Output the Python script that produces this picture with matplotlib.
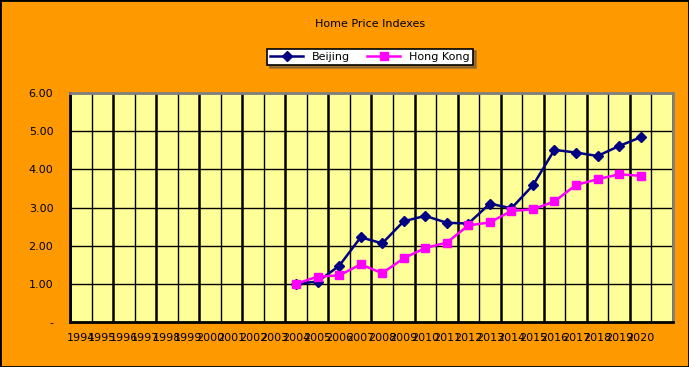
import numpy as np
import matplotlib
matplotlib.use("Agg")
import matplotlib.pyplot as plt

years = [str(y) for y in range(1994, 2021)]
beijing = [None]*10 + [1.00, 1.06, 1.47, 2.22, 2.06, 2.64, 2.78, 2.60, 2.58, 3.10,
                       2.98, 3.58, 4.51, 4.44, 4.35, 4.61, 4.84]
hong_kong = [None]*10 + [1.00, 1.19, 1.22, 1.51, 1.28, 1.67, 1.94, 2.08, 2.53, 2.61,
                         2.91, 2.95, 3.16, 3.59, 3.74, 3.87, 3.83]
yticks = [0, 1, 2, 3, 4, 5, 6]
ytick_labels = ["-", "1.00", "2.00", "3.00", "4.00", "5.00", "6.00"]

fig = plt.figure(figsize=(6.89, 3.67), dpi=100, facecolor="#FF9900")
ax = fig.add_axes([0.1016, 0.1226, 0.875, 0.624])
ax.set_facecolor("#FFFF99")

n = len(years) + 1  # one empty slot at the end
x = np.arange(len(years))
bj = np.array([np.nan if v is None else v for v in beijing])
hk = np.array([np.nan if v is None else v for v in hong_kong])

# vertical grid at category boundaries
for k in range(n + 1):
    ax.axvline(k - 0.5, color="black", lw=1.8 if k % 2 == 0 else 1.0, zorder=1)
for v in yticks[1:]:
    ax.axhline(v, color="black", lw=1.0, zorder=1)

ax.plot(x, bj, color="#000080", lw=1.8, marker="D", ms=5, label="Beijing", zorder=3)
ax.plot(x, hk, color="#FF00FF", lw=1.8, marker="s", ms=6, label="Hong Kong", zorder=3)

ax.set_xlim(-0.5, n - 0.5)
ax.set_ylim(0, 6)
ax.set_xticks(x)
ax.set_xticklabels(years, fontsize=8)
ax.set_yticks(yticks)
ax.set_yticklabels(ytick_labels, fontsize=8)
ax.tick_params(axis="x", length=0, pad=8)
ax.tick_params(axis="y", length=0, pad=12)

for side in ["left", "bottom"]:
    ax.spines[side].set_linewidth(2)
    ax.spines[side].set_color("black")
for side in ["top", "right"]:
    ax.spines[side].set_linewidth(2)
    ax.spines[side].set_color("gray")

fig.text(0.537, 0.935, "Home Price Indexes", ha="center", va="center", fontsize=8)

leg = fig.legend(loc="center", bbox_to_anchor=(0.537, 0.845), ncol=2, fontsize=8,
                 frameon=True, fancybox=False, shadow=True, edgecolor="black",
                 handlelength=3.0, columnspacing=1.5, borderpad=0.3)
leg.get_frame().set_linewidth(1.2)

fig.patches.append(plt.Rectangle((0, 0), 1, 1, transform=fig.transFigure,
                                 fill=False, edgecolor="black", lw=2))

fig.savefig("out.png", dpi=100, facecolor=fig.get_facecolor())
